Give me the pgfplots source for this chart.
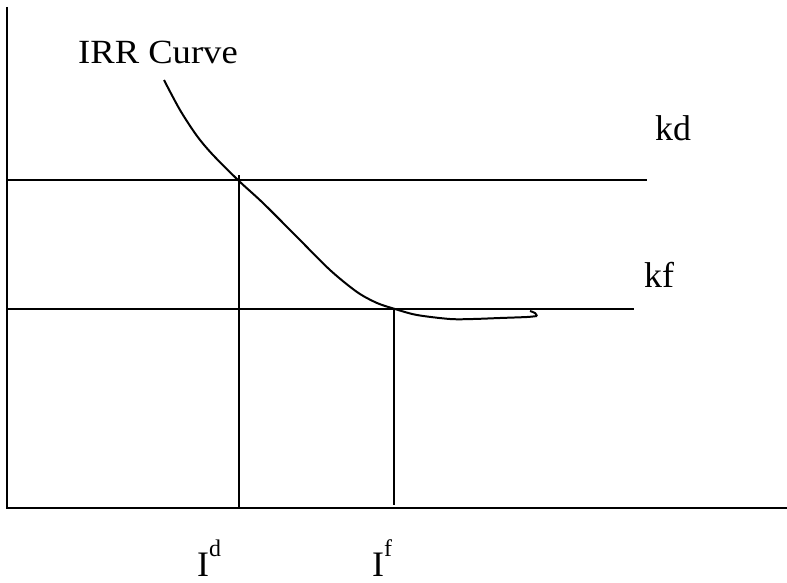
\documentclass[border=0pt]{standalone}
\usepackage{pgfplots}
\pgfplotsset{compat=1.18}
\usepackage{fontspec}
\setmainfont{Liberation Serif}

% pixel-style frame: 1 unit = 1bp, y measured downward
\begin{document}
\begin{tikzpicture}
\begin{axis}[
    scale only axis,
    width=787bp, height=583bp,
    xmin=0, xmax=787, ymin=0, ymax=583,
    y dir=reverse,
    axis lines=none,
    ticks=none,
    clip=false,
]
% axes
\addplot[black, line width=2.4pt] coordinates {(7,7) (7,508) (787,508)};
% cost of capital lines
\addplot[black, line width=2pt] coordinates {(7,180) (647,180)};
\addplot[black, line width=2pt] coordinates {(7,309) (634,309)};
% drop lines
\addplot[black, line width=2pt] coordinates {(239,175) (239,508)};
\addplot[black, line width=2pt] coordinates {(394,309) (394,505)};
% IRR curve
\addplot[black, line width=2pt, smooth] coordinates {
  (164,80) (180,110) (197,136) (213,155) (239,181)
  (263,203) (297,237) (330,270) (357,292) (377,303) (395,309)
  (417,315) (450,319) (473,319) (500,318) (527,317) (537,316)
};
\addplot[black, line width=2pt, smooth] coordinates {(537,316) (535,313) (530,311)};
% labels
\node[anchor=base west, inner sep=0pt, font=\fontsize{34}{34}\selectfont, xscale=1.08] at (axis cs:78,64) {IRR Curve};
\node[anchor=base west, inner sep=0pt, font=\fontsize{36}{36}\selectfont] at (axis cs:655,140) {kd};
\node[anchor=base west, inner sep=0pt, font=\fontsize{36}{36}\selectfont] at (axis cs:644,287) {kf};
\node[anchor=base west, font=\fontsize{36}{36}\selectfont, inner sep=0pt] at (axis cs:197,576) {I\raisebox{0.55em}{\fontsize{24}{24}\selectfont d}};
\node[anchor=base west, font=\fontsize{36}{36}\selectfont, inner sep=0pt] at (axis cs:372,576) {I\raisebox{0.55em}{\fontsize{24}{24}\selectfont f}};
\coordinate (bl) at (rel axis cs:0,0);
\coordinate (tr) at (rel axis cs:1,1);
\end{axis}
\pgfresetboundingbox
\path[use as bounding box] (bl) rectangle (tr);
\end{tikzpicture}
\end{document}
